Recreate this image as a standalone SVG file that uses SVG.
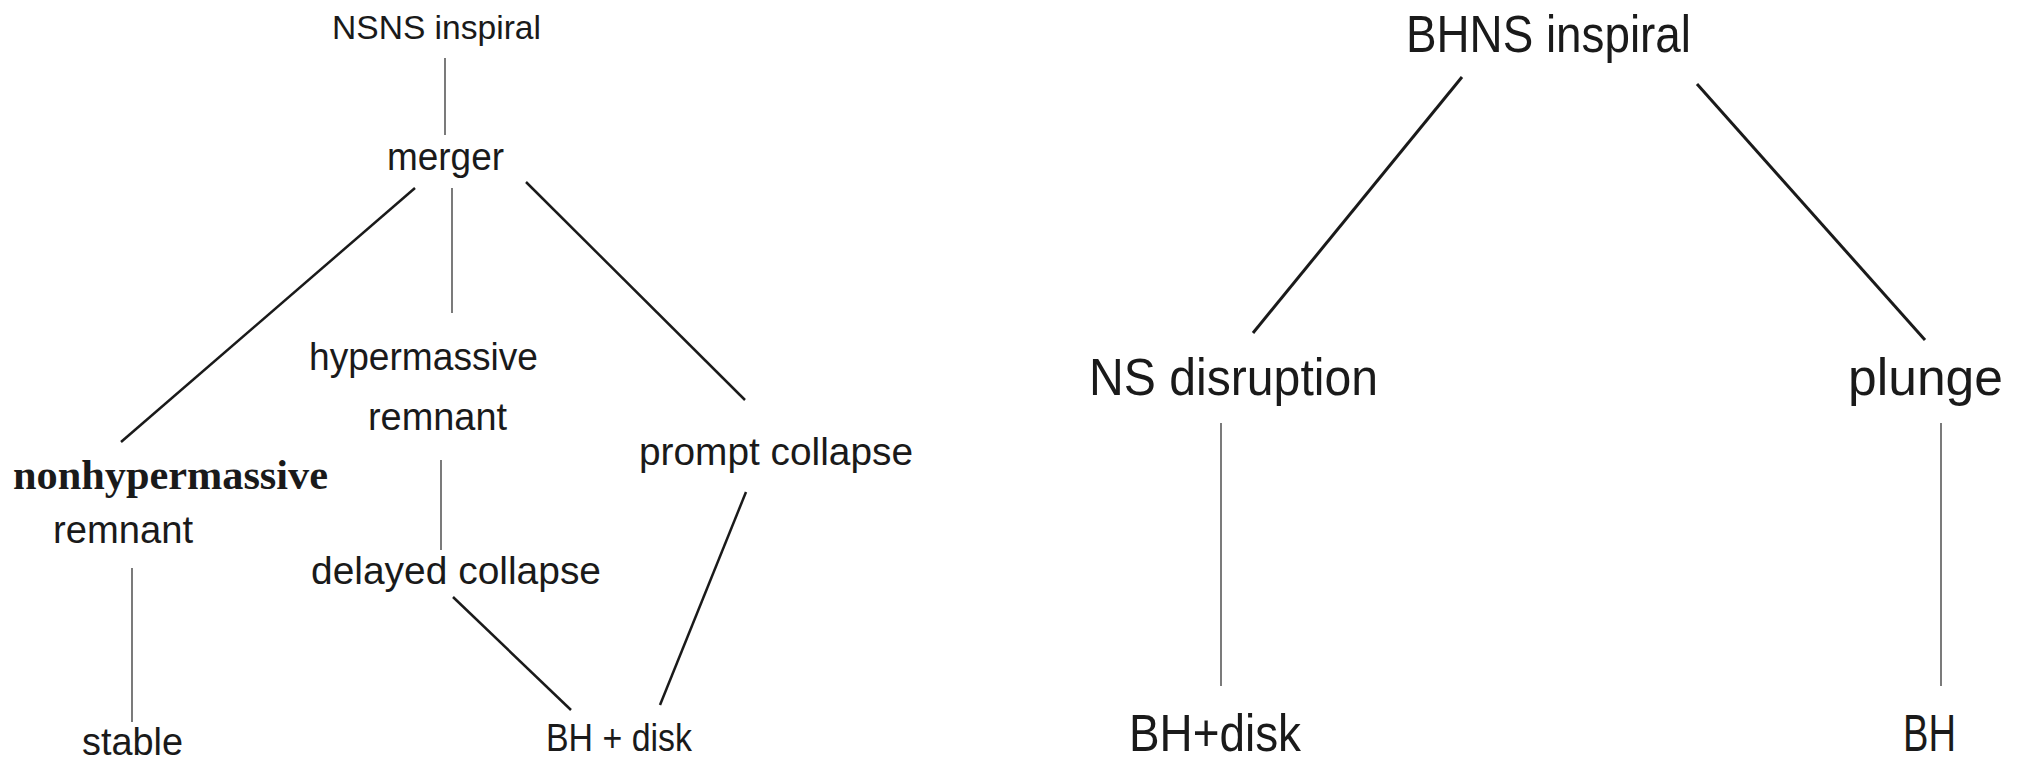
<svg xmlns="http://www.w3.org/2000/svg" width="2020" height="759" viewBox="0 0 2020 759">
<style>
.t{font-family:"Liberation Sans","DejaVu Sans",sans-serif;fill:#1a1a1a;font-size:38px}
.sm{font-size:33px}
.tb{font-size:52px}
.s{font-family:"Liberation Serif","DejaVu Serif",serif;font-weight:bold;fill:#1a1a1a;font-size:42px}
.thin{stroke:#333;stroke-width:1.3;fill:none}
.thick{stroke:#1a1a1a;stroke-width:2.5;fill:none}
.thick3{stroke:#1a1a1a;stroke-width:3;fill:none}
</style>
<rect width="2020" height="759" fill="#fff"/>
<g id="connectors">
<line class="thin" x1="445" y1="58" x2="445" y2="135"/>
<line class="thick" x1="415" y1="188" x2="121" y2="442"/>
<line class="thin" x1="452" y1="188" x2="452" y2="313"/>
<line class="thick" x1="526" y1="182" x2="745" y2="400"/>
<line class="thin" x1="441" y1="460" x2="441" y2="550"/>
<line class="thick" x1="453" y1="597" x2="571" y2="710"/>
<line class="thick" x1="746" y1="492" x2="660" y2="705"/>
<line class="thin" x1="132" y1="568" x2="132" y2="722"/>
<line class="thick3" x1="1462" y1="77" x2="1253" y2="333"/>
<line class="thick3" x1="1697" y1="84" x2="1925" y2="340"/>
<line class="thin" x1="1221" y1="423" x2="1221" y2="686"/>
<line class="thin" x1="1941" y1="423" x2="1941" y2="686"/>
</g>
<g id="nsns-inspiral"><text class="t sm" x="332" y="39" textLength="209" lengthAdjust="spacingAndGlyphs">NSNS inspiral</text></g>
<g id="merger"><text class="t" x="387" y="170" textLength="117" lengthAdjust="spacingAndGlyphs">merger</text></g>
<g id="hypermassive-remnant">
<text class="t" x="309" y="370" textLength="229" lengthAdjust="spacingAndGlyphs">hypermassive</text>
<text class="t" x="368" y="430" textLength="139" lengthAdjust="spacingAndGlyphs">remnant</text>
</g>
<g id="nonhypermassive-remnant">
<text class="s" x="13" y="489" textLength="315" lengthAdjust="spacingAndGlyphs">nonhypermassive</text>
<text class="t" x="53" y="543" textLength="140" lengthAdjust="spacingAndGlyphs">remnant</text>
</g>
<g id="prompt-collapse"><text class="t" x="639" y="465" textLength="274" lengthAdjust="spacingAndGlyphs">prompt collapse</text></g>
<g id="delayed-collapse"><text class="t" x="311" y="584" textLength="290" lengthAdjust="spacingAndGlyphs">delayed collapse</text></g>
<g id="stable"><text class="t" x="82" y="755" textLength="101" lengthAdjust="spacingAndGlyphs">stable</text></g>
<g id="bh-disk-left"><text class="t" x="546" y="751" textLength="146" lengthAdjust="spacingAndGlyphs">BH + disk</text></g>
<g id="bhns-inspiral"><text class="t tb" x="1406" y="52" textLength="285" lengthAdjust="spacingAndGlyphs">BHNS inspiral</text></g>
<g id="ns-disruption"><text class="t tb" x="1089" y="395" textLength="289" lengthAdjust="spacingAndGlyphs">NS disruption</text></g>
<g id="plunge"><text class="t tb" x="1848" y="395" textLength="155" lengthAdjust="spacingAndGlyphs">plunge</text></g>
<g id="bh-disk-right"><text class="t tb" x="1129" y="751" textLength="172" lengthAdjust="spacingAndGlyphs">BH+disk</text></g>
<g id="bh"><text class="t tb" x="1903" y="751" textLength="53" lengthAdjust="spacingAndGlyphs">BH</text></g>
</svg>
